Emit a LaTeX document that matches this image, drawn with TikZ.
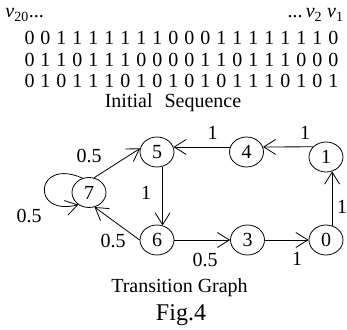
\documentclass[tikz,border=0pt]{standalone}
\usepackage{fontspec}
\setmainfont{Liberation Serif}
\newfontfamily\seqfont[WordSpace=1.2]{Liberation Serif}
\usetikzlibrary{arrows.meta,shapes.geometric}
\tikzstyle{state}=[draw, ellipse, minimum width=34pt, minimum height=30pt, inner sep=0pt]
\tikzstyle{wlabel}=[inner sep=0pt]

\begin{document}
\begin{tikzpicture}[x=1pt,y=1pt,line width=0.8pt,font=\fontsize{20}{24}\selectfont,
  >={Straight Barb[length=12pt,width=15pt]}]
\useasboundingbox (0,0) rectangle (347,329);

% initial sequence
\node[anchor=base west, inner sep=0pt] (vleft) at (5,311) {\textit{v}\textsubscript{20}...};
\node[anchor=base east, inner sep=0pt] (vright) at (344,311) {...\,\textit{v}\textsubscript{2} \textit{v}\textsubscript{1}};
\node[anchor=base, inner sep=0pt, font=\fontsize{20}{24}\seqfont] (row1) at (181.5,284) {0 0 1 1 1 1 1 1 1 0 0 0 1 1 1 1 1 1 1 0};
\node[anchor=base, inner sep=0pt, font=\fontsize{20}{24}\seqfont] (row2) at (181.5,262.5) {0 1 1 0 1 1 1 0 0 0 0 1 1 0 1 1 1 0 0 0};
\node[anchor=base, inner sep=0pt, font=\fontsize{20}{24}\seqfont] (row3) at (181.5,241) {0 1 0 1 1 1 0 1 0 1 0 1 0 1 1 1 0 1 0 1};
\node[anchor=base, inner sep=0pt] (seqtitle) at (173,221.5) {Initial\hspace{0.6em}Sequence};

% states
\node[state] (s5) at (157,177) {5};
\node[state] (s4) at (246.5,177) {4};
\node[state] (s1) at (326,172) {1};
\node[state] (s7) at (89,136.5) {7};
\node[state] (s6) at (157,89) {6};
\node[state] (s3) at (247.5,89) {3};
\node[state] (s0) at (326,89) {0};

% transitions
\draw[->] (s1.142) -- (s4.17);
\draw[->] (s4.163) -- (s5.17);
\draw[->] (s5.291) -- (s6.69);
\draw[->] (s7.71) -- (s5.168);
\draw[->] (s6.west) -- (s7.291);
\draw[->] (s6.east) -- (s3.west);
\draw[->] (s3.east) -- (s0.west);
\draw[->] (s0.67) -- (s1.293);
\draw[->] (s7.114) .. controls (35,172) and (30,112) .. (s7.229);

% weights
\node[wlabel] (w14) at (305,196) {1};
\node[wlabel] (w45) at (212.5,196) {1};
\node[wlabel] (w56) at (146,136) {1};
\node[wlabel] (w75) at (89,173.5) {0.5};
\node[wlabel] (w77) at (29,113) {0.5};
\node[wlabel] (w67) at (113,88) {0.5};
\node[wlabel] (w63) at (205,69) {0.5};
\node[wlabel] (w30) at (297,70) {1};
\node[wlabel] (w01) at (342,122) {1};

% captions
\node[anchor=base, inner sep=0pt] (graphtitle) at (179.5,37) {Transition Graph};
\node[anchor=base, inner sep=0pt, font=\fontsize{24}{28}\selectfont] (figlabel) at (181,9) {Fig.4};

\end{tikzpicture}
\end{document}
